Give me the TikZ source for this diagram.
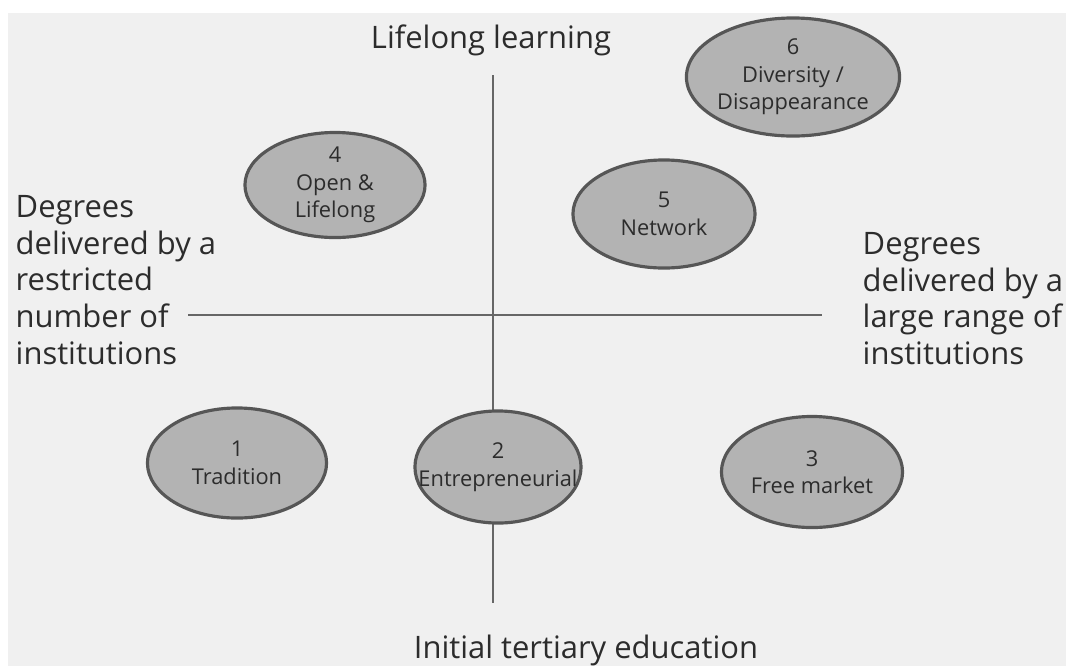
\documentclass[tikz,border=0pt]{standalone}
\usepackage{fontspec}
\setmainfont{Open Sans}
\usetikzlibrary{shapes, positioning}
\definecolor{paper}{HTML}{F0F0F0}
\definecolor{blob}{HTML}{B3B3B3}
\definecolor{ink}{HTML}{2C2C2C}
\definecolor{rule}{HTML}{666666}
\tikzset{
    scenario/.style={draw=ink!80, line width=0.9pt, fill=blob, ellipse, inner sep=-8pt, align=center,
        font=\fontsize{6.2}{7.8}\selectfont, text=ink},
    axislabel/.style={font=\fontsize{8.8}{10.4}\selectfont, text=ink, inner sep=0pt},
    sidelabel/.style={axislabel, align=left, anchor=north west}
}

\begin{document}
\begin{tikzpicture}[x=0.01cm, y=-0.01cm]
    \fill[white] (0,0) rectangle (1066,666);
    \fill[paper] (8,13) rectangle (1066,666);
    \useasboundingbox (0,0) rectangle (1066,666);
    % axes
    \coordinate (top) at (493,75);
    \coordinate (bottom) at (493,603);
    \coordinate (left) at (188,315);
    \coordinate (right) at (822,315);
    \draw[rule, line width=0.55pt] (top) -- (bottom);
    \draw[rule, line width=0.55pt] (left) -- (right);
    % axis labels
    \node[axislabel] (lifelong) at (491,40) {Lifelong learning};
    \node[axislabel] (initial) at (586,650) {Initial tertiary education};
    \node[sidelabel] (restricted) at (15,195) {Degrees\\delivered by a\\restricted\\number of\\institutions};
    \node[sidelabel] (large) at (862,232) {Degrees\\delivered by a\\large range of\\institutions};
    % scenarios
    \node[scenario, minimum width=1.79cm, minimum height=1.10cm] (s1) at (237,463) {1\\Tradition};
    \node[scenario, minimum width=1.66cm, minimum height=1.12cm] (s2) at (498,467) {2\\Entrepreneurial};
    \node[scenario, minimum width=1.81cm, minimum height=1.11cm] (s3) at (812,472) {3\\Free market};
    \node[scenario, minimum width=1.80cm, minimum height=1.05cm] (s4) at (335,185) {4\\Open \&\\Lifelong};
    \node[scenario, minimum width=1.82cm, minimum height=1.08cm] (s5) at (664,214) {5\\Network};
    \node[scenario, minimum width=2.13cm, minimum height=1.18cm] (s6) at (793,77) {6\\Diversity /\\Disappearance};
\end{tikzpicture}
\end{document}
